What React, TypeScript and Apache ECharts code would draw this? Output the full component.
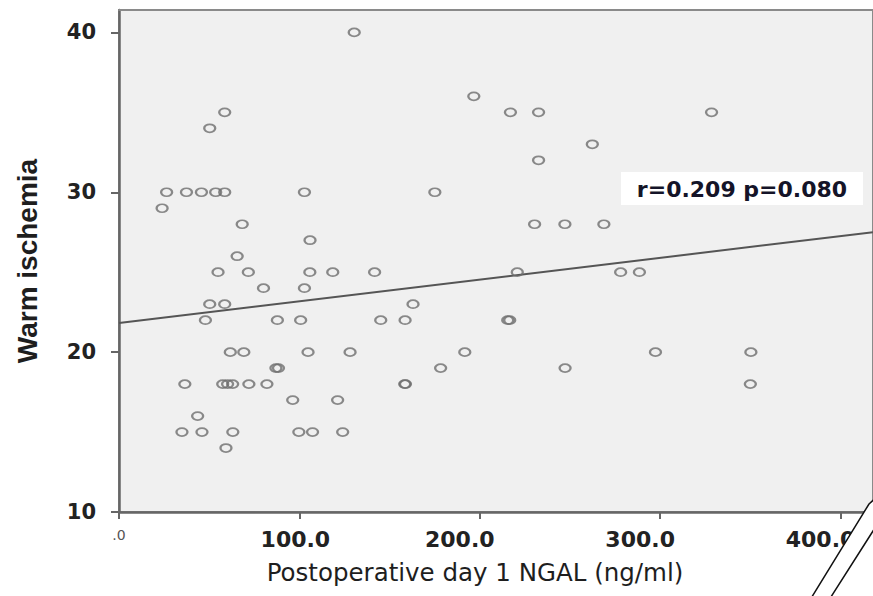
import React, { useEffect, useRef } from "react";
import * as echarts from "echarts";

// Postoperative day 1 NGAL (ng/ml)
const ngal: number[] = [
  130.4,
  196.7,
  58.6, 217.0, 232.6, 328.5,
  50.3,
  262.4,
  232.6,
  26.4, 37.4, 45.7, 53.6, 58.6, 102.8, 175.1,
  23.9,
  68.3, 230.4, 247.2, 268.8,
  105.9,
  65.5,
  54.9, 71.7, 105.8, 118.5, 141.7, 220.8, 278.1, 288.5,
  80.1, 102.8,
  50.3, 58.6, 163.0,
  47.9, 87.8, 100.7, 145.1, 158.6, 215.5, 216.6,
  61.7, 69.2, 104.8, 128.1, 191.7, 297.4, 350.3,
  87.0, 88.4, 178.3, 247.3,
  36.5, 57.5, 60.2, 63.0, 72.0, 82.0, 158.4, 158.8, 350.0,
  96.3, 121.2,
  43.6,
  34.9, 46.0, 63.1, 99.7, 107.3, 124.0,
  59.3,
];

// Warm ischemia (min)
const warmIschemia: number[] = [
  40,
  36,
  35, 35, 35, 35,
  34,
  33,
  32,
  30, 30, 30, 30, 30, 30, 30,
  29,
  28, 28, 28, 28,
  27,
  26,
  25, 25, 25, 25, 25, 25, 25, 25,
  24, 24,
  23, 23, 23,
  22, 22, 22, 22, 22, 22, 22,
  20, 20, 20, 20, 20, 20, 20,
  19, 19, 19, 19,
  18, 18, 18, 18, 18, 18, 18, 18, 18,
  17, 17,
  16,
  15, 15, 15, 15, 15, 15,
  14,
];

// Fit line end points (x, y)
const fitX: number[] = [0, 418];
const fitY: number[] = [21.82, 27.5];

const xTicks: number[] = [0, 100, 200, 300, 400];
const yTicks: number[] = [10, 20, 30, 40];
const annotation = "r=0.209 p=0.080";

const X_MIN = 0;
const X_MAX = 418;

const ELLIPSE = "path://M0,-1A1,1 0 1,1 0,1A1,1 0 1,1 0,-1Z";

export default function App() {
  const ref = useRef<HTMLDivElement>(null);
  useEffect(() => {
    if (!ref.current) return;
    const chart = echarts.init(ref.current, null, { renderer: "svg" });
    const points = ngal.map((x, i) => [x, warmIschemia[i]]);
    const fit = fitX.map((x, i) => [x, fitY[i]]);
    chart.setOption({
      animation: false,
      backgroundColor: "#ffffff",
      grid: {
        left: 119,
        right: -3,
        top: 10,
        bottom: 84,
        show: true,
        backgroundColor: "#f0f0f0",
        borderColor: "#8a8a8a",
        borderWidth: 2,
      },
      xAxis: [
        {
          type: "value",
          min: X_MIN,
          max: X_MAX,
          interval: 100,
          name: "Postoperative day 1 NGAL (ng/ml)",
          nameLocation: "middle",
          nameGap: 48,
          nameTextStyle: {
            fontFamily: "DejaVu Sans",
            fontSize: 24.5,
            color: "#1e1e1e",
            padding: [0, 42, 0, 0],
          },
          axisLine: { show: true, lineStyle: { color: "#666", width: 2.5 } },
          axisTick: {
            show: true,
            length: 7,
            customValues: xTicks,
            lineStyle: { color: "#666", width: 2 },
          },
          axisLabel: {
            customValues: xTicks,
            margin: 16,
            formatter: (v: number) =>
              v === 0 ? "{z|.0}" : `{${v === 100 ? "a" : "b"}|${v.toFixed(1)}}`,
            rich: {
              z: { fontFamily: "DejaVu Sans", fontSize: 14, color: "#555" },
              a: {
                fontFamily: "DejaVu Sans",
                fontWeight: "bold",
                fontSize: 22,
                color: "#222",
                padding: [0, 8, 0, 0],
              },
              b: {
                fontFamily: "DejaVu Sans",
                fontWeight: "bold",
                fontSize: 22,
                color: "#222",
                padding: [0, 40, 0, 0],
              },
            },
          },
          splitLine: { show: false },
        },
        {
          type: "value",
          position: "top",
          min: X_MIN,
          max: X_MAX,
          axisLine: { show: true, lineStyle: { color: "#8a8a8a", width: 2 } },
          axisTick: { show: false },
          axisLabel: { show: false },
          splitLine: { show: false },
        },
      ],
      yAxis: {
        type: "value",
        min: 10,
        max: 41.4,
        interval: 10,
        name: "Warm ischemia",
        nameLocation: "middle",
        nameGap: 78,
        nameTextStyle: {
          fontFamily: "'Liberation Sans Narrow', 'Liberation Sans', Arial",
          fontWeight: "bold",
          fontSize: 28,
          color: "#1e1e1e",
        },
        axisLine: { show: true, lineStyle: { color: "#666", width: 2.5 } },
        axisTick: {
          show: true,
          length: 8,
          customValues: yTicks,
          lineStyle: { color: "#666", width: 2 },
        },
        axisLabel: {
          customValues: yTicks,
          margin: 23,
          fontFamily: "DejaVu Sans",
          fontWeight: "bold",
          fontSize: 21,
          color: "#222",
        },
        splitLine: { show: false },
      },
      series: [
        {
          type: "scatter",
          data: points,
          symbol: ELLIPSE,
          symbolSize: [11, 8],
          itemStyle: {
            color: "rgba(0,0,0,0)",
            borderColor: "#6e6e6e",
            borderWidth: 2,
          },
          z: 3,
        },
        {
          type: "line",
          data: fit,
          symbol: "none",
          lineStyle: { color: "#555", width: 2 },
          z: 2,
        },
      ],
      graphic: [
        {
          type: "rect",
          shape: { x: 621, y: 172, width: 242, height: 33 },
          style: { fill: "#ffffff" },
          z: 10,
        },
        {
          type: "text",
          x: 742,
          y: 189,
          style: {
            text: annotation,
            font: "bold 22px 'DejaVu Sans'",
            fill: "#141428",
            align: "center",
            verticalAlign: "middle",
          },
          z: 11,
        },
        {
          // watermark fragment in the lower-right corner
          type: "polygon",
          shape: {
            points: [
              [869, 504],
              [880, 494],
              [880, 520],
              [829, 600],
              [810, 600],
            ],
          },
          style: { fill: "#ffffff", stroke: "#111", lineWidth: 1.5 },
          z: 20,
        },
      ],
    });
    return () => chart.dispose();
  }, []);
  return (
    <div
      ref={ref}
      style={{ position: "fixed", left: 0, top: 0, width: 873, height: 596 }}
    />
  );
}
